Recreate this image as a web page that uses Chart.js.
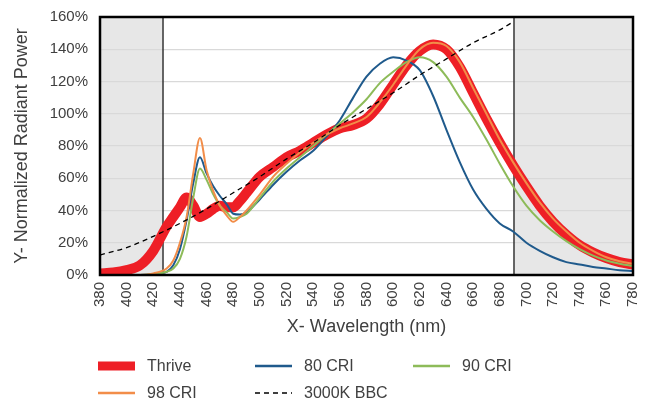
<!DOCTYPE html>
<html>
<head>
<meta charset="utf-8">
<script src="https://cdn.jsdelivr.net/npm/chart.js@4/dist/chart.umd.min.js"></script>
<style>
    body { margin: 0; background: #fff; }
    #chart { display: block; }
</style>
</head>
<body>
<canvas id="chart" width="653" height="400"></canvas>
<script>
// wavelengths (nm) shared by the four measured spectra
const wavelengths = [380, 390, 400, 410, 420, 430, 435, 440, 445, 450, 455, 460, 465, 470, 475, 480, 485, 490,
    500, 510, 520, 530, 540, 550, 560, 570, 580, 590, 600, 610, 620, 630, 640, 650, 660, 670, 680, 690,
    700, 710, 720, 730, 740, 750, 760, 770, 780];

const thrive = [1, 1.5, 3, 6, 15, 30, 36, 42, 48, 43, 36, 38, 41, 43, 42, 42, 46, 51,
    61, 67, 73, 77, 82, 87, 91, 93, 97, 106, 118, 130, 139, 143, 140, 129, 113, 97, 82, 68,
    55, 43, 33, 25, 18.5, 14, 10.5, 8, 6.5];

const cri80 = [0, 0, 0, 0, 0.5, 2, 6, 16, 34, 57, 73, 63, 55, 49, 44, 38, 37.5, 39,
    47, 56, 64, 71, 77, 86, 96, 110, 123, 131, 135, 133, 127, 111, 90, 70, 53, 41, 32, 27,
    20, 15, 11, 8, 6.5, 5, 4, 3, 2.5];

const cri90 = [0, 0, 0, 0, 0.5, 2, 4, 10, 24, 48, 66, 59, 50, 43, 39, 35, 36, 38,
    48, 58, 66, 73, 80, 87, 94, 101, 109, 119, 126, 132, 135, 132, 123, 110, 98, 84, 69, 55,
    43, 34, 27, 21, 16, 12, 9, 7, 5.5];

const cri98 = [0, 0, 0, 0, 1, 4, 9, 20, 36, 63, 85, 65, 52, 43, 37, 33, 36, 40,
    50, 61, 69, 76, 82, 87, 91, 94, 98, 107, 118, 130, 140, 144, 142, 132, 116, 100, 84, 70,
    57, 45, 35, 27, 20, 15, 11, 8.5, 7];

// 3000K black body reference, drawn up to the right marker only
const bbcWavelengths = [380, 400, 420, 440, 460, 480, 500, 520, 540, 560, 580, 600, 620, 640, 660, 680, 690];
const bbc = [12.4, 17, 24, 32, 41, 51, 61, 72, 82, 93, 103, 113, 124, 134, 144, 152, 157];

const yTicks = [0, 20, 40, 60, 80, 100, 120, 140, 160];
const shadeLimits = [427, 691];

const TEXT = '#404040';
const FONT = "'Liberation Sans', Arial, sans-serif";

Chart.defaults.font.family = FONT;
Chart.defaults.color = TEXT;

function points(xs, ys) {
    return xs.map((x, i) => ({ x: x, y: ys[i] }));
}

// keep label overhang from pushing the plot area around
function fixSize(scale, w, h) {
    if (w) scale.width = w;
    if (h) scale.height = h;
    scale.paddingLeft = scale.paddingRight = scale.paddingTop = scale.paddingBottom = 0;
}

const shadePlugin = {
    id: 'shade',
    beforeDraw(chart) {
        const { ctx, chartArea, scales } = chart;
        const x1 = scales.x.getPixelForValue(shadeLimits[0]);
        const x2 = scales.x.getPixelForValue(shadeLimits[1]);
        ctx.save();
        ctx.fillStyle = '#e7e7e7';
        ctx.fillRect(chartArea.left, chartArea.top, x1 - chartArea.left, chartArea.height);
        ctx.fillRect(x2, chartArea.top, chartArea.right - x2, chartArea.height);
        ctx.restore();
    },
    beforeDatasetsDraw(chart) {
        const { ctx, chartArea, scales } = chart;
        ctx.save();
        ctx.strokeStyle = '#333';
        ctx.lineWidth = 1.5;
        shadeLimits.forEach(v => {
            const x = Math.round(scales.x.getPixelForValue(v));
            ctx.beginPath();
            ctx.moveTo(x, chartArea.top);
            ctx.lineTo(x, chartArea.bottom);
            ctx.stroke();
        });
        ctx.restore();
    },
    afterDatasetsDraw(chart) {
        const { ctx, chartArea } = chart;
        ctx.save();
        ctx.strokeStyle = '#000';
        ctx.lineWidth = 2.5;
        ctx.strokeRect(chartArea.left, chartArea.top, chartArea.width, chartArea.height);
        ctx.restore();
    }
};

// legend in a fixed 3 column grid like the original
const legendPlugin = {
    id: 'gridLegend',
    afterDraw(chart) {
        const { ctx } = chart;
        const colX = [98, 255, 413];
        const rowY = [366, 393];
        ctx.save();
        ctx.font = '16px ' + FONT;
        ctx.textBaseline = 'middle';
        ctx.fillStyle = TEXT;
        chart.data.datasets.forEach((ds, i) => {
            const x = colX[i % 3];
            const y = rowY[Math.floor(i / 3)];
            ctx.save();
            ctx.strokeStyle = ds.borderColor;
            ctx.lineWidth = ds.legendWidth;
            ctx.setLineDash(ds.borderDash || []);
            ctx.beginPath();
            ctx.moveTo(x, y);
            ctx.lineTo(x + 37, y);
            ctx.stroke();
            ctx.restore();
            ctx.fillText(ds.label, x + 49, y + 1);
        });
        ctx.restore();
    }
};

new Chart(document.getElementById('chart'), {
    type: 'line',
    data: {
        datasets: [
            {
                label: 'Thrive',
                data: points(wavelengths, thrive),
                borderColor: '#ee1f26',
                borderWidth: 10,
                legendWidth: 9,
                order: 5
            },
            {
                label: '80 CRI',
                data: points(wavelengths, cri80),
                borderColor: '#1f5a8c',
                borderWidth: 2,
                legendWidth: 2.5,
                order: 4
            },
            {
                label: '90 CRI',
                data: points(wavelengths, cri90),
                borderColor: '#8dbb59',
                borderWidth: 2,
                legendWidth: 2.5,
                order: 3
            },
            {
                label: '98 CRI',
                data: points(wavelengths, cri98),
                borderColor: '#f28d49',
                borderWidth: 2,
                legendWidth: 2.5,
                order: 2
            },
            {
                label: '3000K BBC',
                data: points(bbcWavelengths, bbc),
                borderColor: '#000',
                borderWidth: 1.3,
                legendWidth: 1.3,
                borderDash: [5, 4],
                order: 1
            }
        ]
    },
    options: {
        responsive: false,
        animation: false,
        events: [],
        layout: {
            padding: { top: 17, right: 20, bottom: 62, left: 0 }
        },
        elements: {
            point: { radius: 0 },
            line: { cubicInterpolationMode: 'monotone', fill: false }
        },
        plugins: {
            legend: { display: false },
            tooltip: { enabled: false }
        },
        scales: {
            x: {
                type: 'linear',
                min: 380,
                max: 780,
                afterFit: scale => fixSize(scale, 0, 63),
                ticks: {
                    stepSize: 20,
                    minRotation: 90,
                    maxRotation: 90,
                    padding: 7,
                    color: TEXT,
                    font: { size: 15 }
                },
                grid: { display: false, drawTicks: false },
                border: { display: false },
                title: {
                    display: true,
                    text: 'X- Wavelength (nm)',
                    color: TEXT,
                    font: { size: 18 },
                    padding: { top: 0, bottom: 0 }
                }
            },
            y: {
                min: 0,
                max: 160,
                afterFit: scale => fixSize(scale, 100, 0),
                afterBuildTicks: scale => { scale.ticks = yTicks.map(v => ({ value: v })); },
                ticks: {
                    padding: 12,
                    color: TEXT,
                    font: { size: 15 },
                    callback: v => v + '%'
                },
                grid: { color: '#d9d9d9', lineWidth: 1.2, drawTicks: false },
                border: { display: false },
                title: {
                    display: true,
                    text: 'Y- Normalized Radiant Power',
                    color: TEXT,
                    font: { size: 18 },
                    padding: { top: 11, bottom: 0 }
                }
            }
        }
    },
    plugins: [shadePlugin, legendPlugin]
});
</script>
</body>
</html>
